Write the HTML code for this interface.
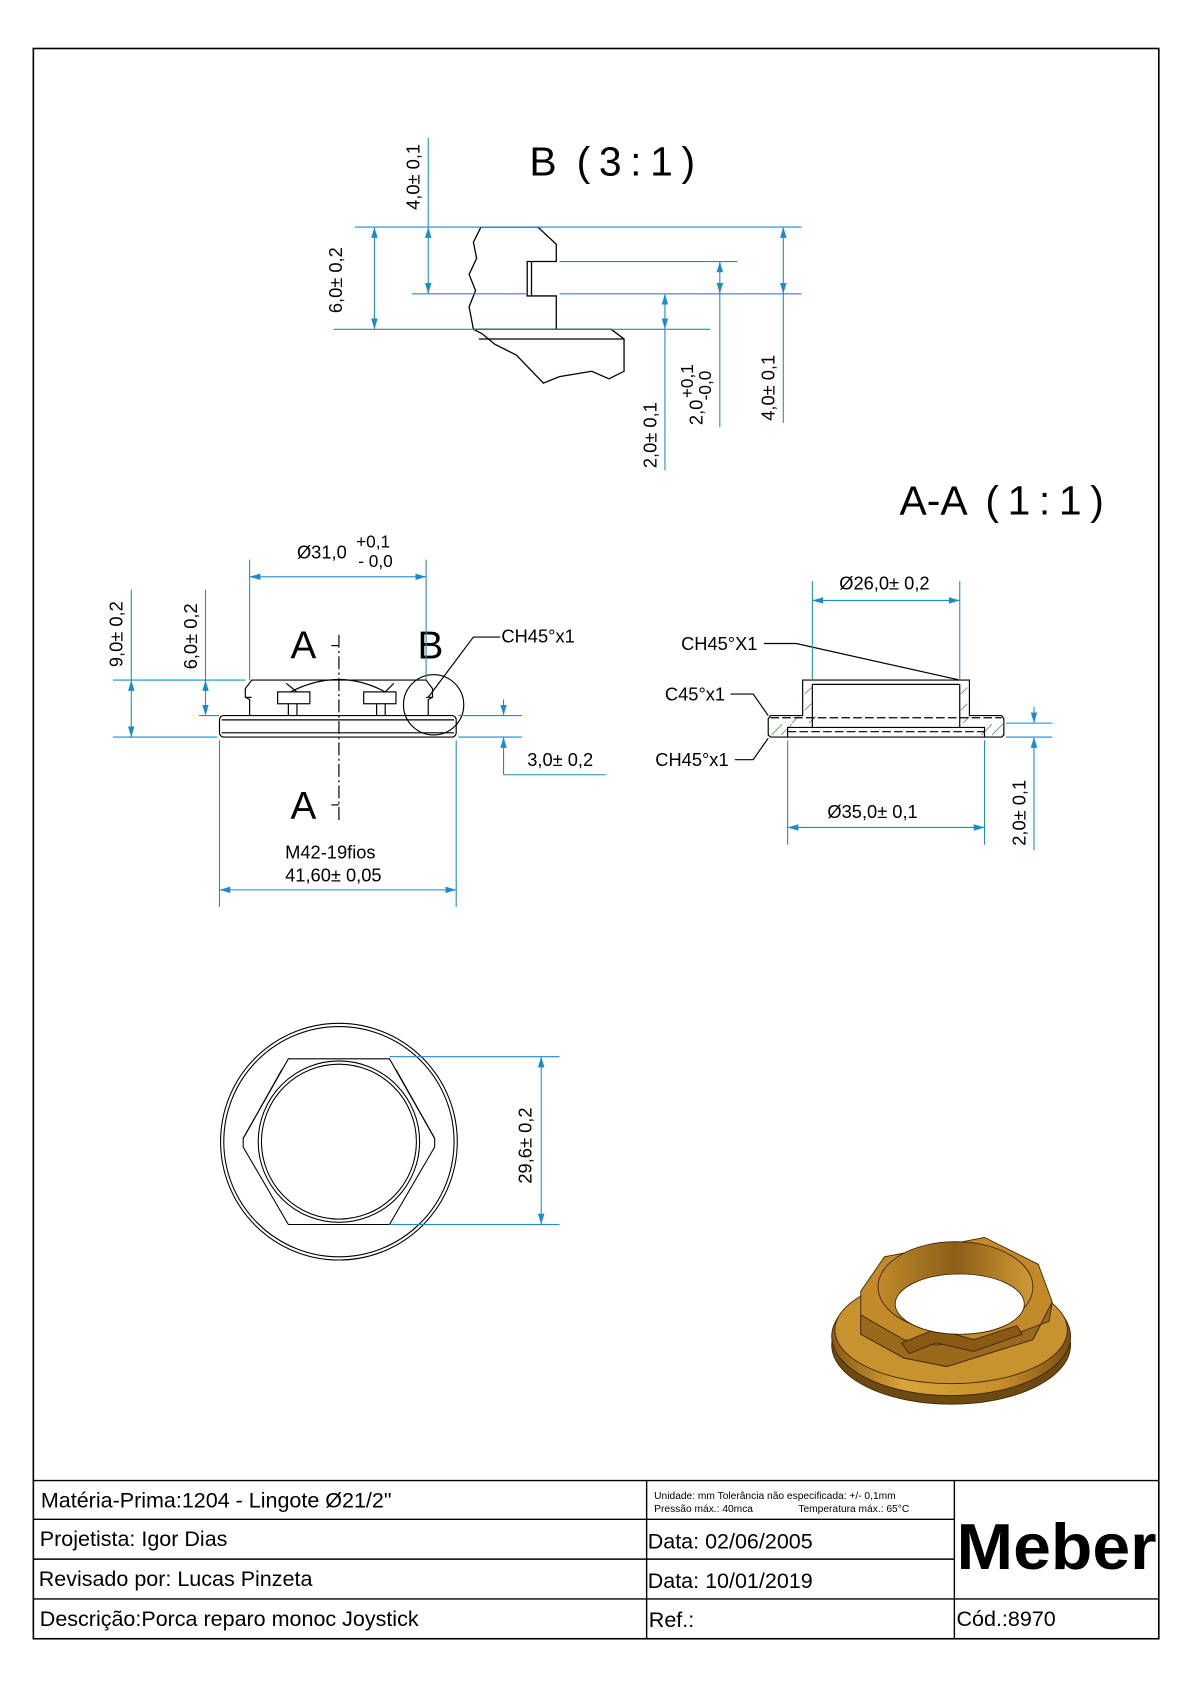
<!DOCTYPE html>
<html><head><meta charset="utf-8"><style>
html,body{margin:0;padding:0;background:#fff}
svg{display:block}
text{font-family:"Liberation Sans",sans-serif;fill:#000}
</style></head><body>
<svg width="1190" height="1684" viewBox="0 0 1106 1565" xmlns="http://www.w3.org/2000/svg">
<defs>
<marker id="ar" viewBox="0 0 10 6" refX="10" refY="3" markerWidth="10" markerHeight="6" orient="auto-start-reverse" markerUnits="userSpaceOnUse"><path d="M0,0 L10,3 L0,6z" fill="#1a8ccc"/></marker>
<linearGradient id="gold" x1="0" y1="0" x2="1" y2="0"><stop offset="0" stop-color="#8a5a12"/><stop offset="0.3" stop-color="#d9a43a"/><stop offset="0.7" stop-color="#c8902a"/><stop offset="1" stop-color="#7a4e10"/></linearGradient>
<linearGradient id="gold2" x1="0" y1="0" x2="1" y2="0"><stop offset="0" stop-color="#c08a2a"/><stop offset="0.5" stop-color="#8c5e18"/><stop offset="1" stop-color="#d09a35"/></linearGradient>
</defs>
<rect x="31" y="45" width="1046" height="1478" fill="none" stroke="#000" stroke-width="1.5"/>

<!-- title block -->
<g stroke="#000" stroke-width="1.3" fill="none">
<line x1="31" y1="1376" x2="1077" y2="1376"/>
<line x1="31" y1="1412" x2="887" y2="1412"/>
<line x1="31" y1="1449" x2="887" y2="1449"/>
<line x1="31" y1="1486" x2="1077" y2="1486"/>
<line x1="601" y1="1376" x2="601" y2="1523"/>
<line x1="887" y1="1376" x2="887" y2="1523"/>
</g>
<g font-size="20">
<text x="38" y="1401">Matéria-Prima:1204 - Lingote Ø21/2"</text>
<text x="37" y="1437">Projetista:  Igor Dias</text>
<text x="36" y="1474">Revisado por:  Lucas Pinzeta</text>
<text x="37" y="1511">Descrição:Porca reparo monoc Joystick</text>
<text x="602" y="1439">Data: 02/06/2005</text>
<text x="602" y="1476">Data: 10/01/2019</text>
<text x="603" y="1512">Ref.:</text>
<text x="889" y="1511">Cód.:8970</text>
</g>
<text x="608" y="1393" font-size="9.5">Unidade: mm Tolerância não especificada: +/- 0,1mm</text>
<text x="608" y="1405" font-size="9.5">Pressão máx.: 40mca <tspan x="742">Temperatura máx.: 65°C</tspan></text>
<text x="889" y="1458" font-size="60" font-weight="bold" textLength="186" lengthAdjust="spacingAndGlyphs">Meber</text>

<!-- B detail -->
<text x="492" y="163" font-size="38">B <tspan dx="8">(</tspan><tspan dx="8">3</tspan><tspan dx="8">:</tspan><tspan dx="8">1</tspan><tspan dx="8">)</tspan></text>
<g stroke="#000" stroke-width="1.2" fill="none">
<path d="M447,211 L500,211 L517,227 L517,243 L490,243 L490,275 L517,275 L517,306"/>
<line x1="494" y1="243" x2="494" y2="275"/>
<path d="M447,211 L440,225 L443,240 L436,255 L442,270 L436,285 L440,306 L568,306 L580,315 L580,345 L566,352 L550,345 L520,350 L505,356 L480,330 L460,320 L448,310 L440,306"/>
<line x1="445" y1="315" x2="580" y2="315"/>
</g>
<g stroke="#1a8ccc" stroke-width="1" fill="none">
<line x1="330" y1="211" x2="745" y2="211"/>
<line x1="383" y1="273" x2="490" y2="273"/><line x1="520" y1="273" x2="745" y2="273"/>
<line x1="520" y1="243" x2="685" y2="243"/>
<line x1="310" y1="306" x2="660" y2="306"/>
<line x1="348" y1="211" x2="348" y2="306" marker-start="url(#ar)" marker-end="url(#ar)"/>
<line x1="398" y1="128" x2="398" y2="211"/>
<line x1="398" y1="211" x2="398" y2="273" marker-start="url(#ar)" marker-end="url(#ar)"/>
<line x1="618" y1="273" x2="618" y2="306" marker-start="url(#ar)" marker-end="url(#ar)"/>
<line x1="618" y1="306" x2="618" y2="437"/>
<line x1="669" y1="243" x2="669" y2="273" marker-start="url(#ar)" marker-end="url(#ar)"/>
<line x1="669" y1="273" x2="669" y2="397"/>
<line x1="728" y1="211" x2="728" y2="273" marker-start="url(#ar)" marker-end="url(#ar)"/>
<line x1="728" y1="273" x2="728" y2="393"/>
</g>
<g font-size="17">
<text transform="translate(318,291) rotate(-90)">6,0± 0,2</text>
<text transform="translate(390,195) rotate(-90)">4,0± 0,1</text>
<text transform="translate(610,435) rotate(-90)">2,0± 0,1</text>
<text transform="translate(653,395) rotate(-90)">2,0</text>
<text transform="translate(644,370) rotate(-90)" font-size="16">+0,1</text>
<text transform="translate(661,372) rotate(-90)" font-size="16">-0,0</text>
<text transform="translate(720,391) rotate(-90)">4,0± 0,1</text>
</g>

<!-- A-A title -->
<text x="836" y="478" font-size="38">A-A <tspan dx="8">(</tspan><tspan dx="8">1</tspan><tspan dx="8">:</tspan><tspan dx="8">1</tspan><tspan dx="8">)</tspan></text>

<!-- front view -->
<g stroke="#000" stroke-width="1.1" fill="none">
<path d="M232,665 L232,650 L228,648 L228,640 L234,632 L396,632 L402,640 L402,648 L398,650 L398,665"/>
<path d="M228,648 L234,648 M396,648 L402,648"/>
<rect x="204" y="665" width="220" height="20" rx="4"/>
<line x1="206" y1="669" x2="422" y2="669"/>
<line x1="206" y1="681" x2="422" y2="681"/>
<rect x="258" y="643" width="30" height="11"/><rect x="338" y="643" width="30" height="11"/>
<path d="M268,654 V665 M276,654 V665 M350,654 V665 M358,654 V665"/>
<path d="M276,643 L266,635 M270,643 Q315,620 358,643 M358,643 L366,635"/>
<circle cx="403" cy="655" r="28"/>
<path d="M398,648 L440,592 L465,592"/>
<line x1="315" y1="590" x2="315" y2="762" stroke-dasharray="12,3,2,3"/>
<line x1="308" y1="600" x2="315" y2="600"/><line x1="308" y1="748" x2="315" y2="748"/>
</g>
<g font-size="36"><text x="270" y="612">A</text><text x="270" y="761">A</text><text x="388" y="612">B</text></g>
<g stroke="#1a8ccc" stroke-width="1" fill="none">
<line x1="232" y1="520" x2="232" y2="632"/><line x1="396" y1="520" x2="396" y2="632"/>
<line x1="232" y1="536" x2="396" y2="536" marker-start="url(#ar)" marker-end="url(#ar)"/>
<line x1="105" y1="632" x2="228" y2="632"/>
<line x1="105" y1="685" x2="202" y2="685"/>
<line x1="185" y1="665" x2="204" y2="665"/>
<line x1="122" y1="548" x2="122" y2="632"/>
<line x1="122" y1="632" x2="122" y2="685" marker-start="url(#ar)" marker-end="url(#ar)"/>
<line x1="191" y1="548" x2="191" y2="632"/>
<line x1="191" y1="632" x2="191" y2="665" marker-start="url(#ar)" marker-end="url(#ar)"/>
<line x1="426" y1="665" x2="485" y2="665"/><line x1="426" y1="685" x2="485" y2="685"/>
<line x1="468" y1="650" x2="468" y2="665" marker-end="url(#ar)"/>
<line x1="468" y1="720" x2="468" y2="685" marker-end="url(#ar)"/>
<line x1="468" y1="720" x2="563" y2="720"/>
<line x1="204" y1="688" x2="204" y2="843"/><line x1="424" y1="688" x2="424" y2="843"/>
<line x1="204" y1="827" x2="424" y2="827" marker-start="url(#ar)" marker-end="url(#ar)"/>
</g>
<g font-size="17">
<text x="276" y="519">Ø31,0</text><text x="331" y="509" font-size="16">+0,1</text><text x="333" y="527" font-size="16">- 0,0</text>
<text transform="translate(114,620) rotate(-90)">9,0± 0,2</text>
<text transform="translate(183,622) rotate(-90)">6,0± 0,2</text>
<text x="466" y="597">CH45°x1</text>
<text x="490" y="712">3,0± 0,2</text>
<text x="265" y="798">M42-19fios</text>
<text x="265" y="819">41,60± 0,05</text>
</g>

<!-- section view -->
<g stroke="#2a8a2a" stroke-width="0.8" opacity="0.8">
<path d="M748,645 L754,639 M748,660 L754,654 M893,645 L899,639 M893,660 L899,654 M717,683 L727,673 M726,683 L736,673 M736,672 L742,666 M752,672 L758,666 M895,672 L901,666 M912,683 L922,673 M922,683 L932,673"/>
</g>
<g stroke="#000" stroke-width="1.1" fill="none">
<path d="M746,665 L746,632 L901,632 L901,665 L931,665 L933,668 L933,683 L931,685 L716,685 L714,683 L714,668 L716,665 Z"/>
<path d="M755,636 L755,676 M892,636 L892,676 M755,636 L892,636"/>
<path d="M732,685 L732,676 L915,676 L915,685"/>
<line x1="716" y1="667" x2="931" y2="667" stroke-dasharray="8,3"/>
<line x1="732" y1="680" x2="915" y2="680" stroke-dasharray="8,3"/>
<path d="M710,598 L740,598 L892,632"/>
<path d="M679,645 L700,645 L714,665"/>
<path d="M683,706 L700,706 L714,686"/>
</g>
<g stroke="#1a8ccc" stroke-width="1" fill="none">
<line x1="755" y1="540" x2="755" y2="632"/><line x1="892" y1="540" x2="892" y2="632"/>
<line x1="755" y1="558" x2="892" y2="558" marker-start="url(#ar)" marker-end="url(#ar)"/>
<line x1="732" y1="688" x2="732" y2="785"/><line x1="915" y1="688" x2="915" y2="785"/>
<line x1="732" y1="769" x2="915" y2="769" marker-start="url(#ar)" marker-end="url(#ar)"/>
<line x1="935" y1="672" x2="978" y2="672"/><line x1="935" y1="685" x2="978" y2="685"/>
<line x1="961" y1="657" x2="961" y2="672" marker-end="url(#ar)"/>
<line x1="961" y1="790" x2="961" y2="685" marker-end="url(#ar)"/>
</g>
<g font-size="17">
<text x="780" y="548">Ø26,0± 0,2</text>
<text x="633" y="604">CH45°X1</text>
<text x="618" y="651">C45°x1</text>
<text x="609" y="712">CH45°x1</text>
<text x="769" y="760">Ø35,0± 0,1</text>
<text transform="translate(953,786) rotate(-90)">2,0± 0,1</text>
</g>

<!-- top view -->
<g stroke="#000" stroke-width="1" fill="none">
<circle cx="315" cy="1061" r="110"/><circle cx="315" cy="1061" r="107"/>
<path d="M268,984 L362,984 L404,1058 L404,1066 L362,1138 L268,1138 L226,1066 L226,1058 Z"/>
<path d="M262,994 L226,1058 M368,994 L404,1058"/>
<circle cx="315" cy="1061" r="75"/><circle cx="315" cy="1061" r="72"/>
</g>
<g stroke="#1a8ccc" stroke-width="1" fill="none">
<line x1="362" y1="982" x2="520" y2="982"/><line x1="362" y1="1138" x2="520" y2="1138"/>
<line x1="503" y1="982" x2="503" y2="1138" marker-start="url(#ar)" marker-end="url(#ar)"/>
</g>
<text transform="translate(494,1100) rotate(-90)" font-size="17">29,6± 0,2</text>

<!-- 3D render -->
<g stroke="#3a2405" stroke-width="0.8">
<ellipse cx="884" cy="1250" rx="111" ry="55" fill="#6e4a12"/>
<ellipse cx="884" cy="1242" rx="111" ry="55" fill="url(#gold)"/>
<ellipse cx="884" cy="1236" rx="108" ry="50" fill="#c8932e"/>
<path d="M800,1200 L822,1168 L915,1150 L965,1175 L978,1210 L960,1245 L880,1270 L840,1262 L800,1240 Z" fill="#c28a28"/>
<path d="M800,1240 L840,1262 L880,1270 L960,1245 L978,1210 L975,1228 L948,1238 L870,1250 L840,1245 L800,1222 Z" fill="#9a6a1c"/>
<path d="M838,1248 L870,1235 L905,1245 L945,1232 L950,1240 L905,1256 L870,1248 L845,1258 Z" fill="#8a5a15"/>
<ellipse cx="888" cy="1196" rx="72" ry="42" fill="url(#gold2)"/>
<ellipse cx="892" cy="1212" rx="60" ry="28" fill="#fff"/>
</g>
</svg>
</body></html>
